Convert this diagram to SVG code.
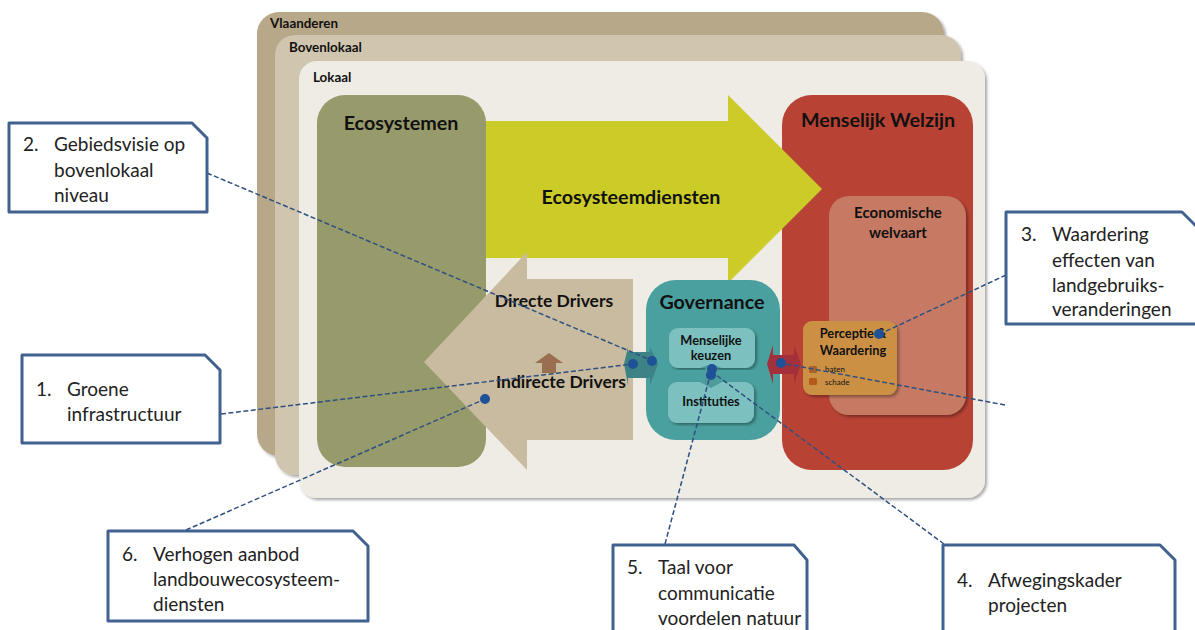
<svg xmlns="http://www.w3.org/2000/svg" width="1195" height="630" viewBox="0 0 1195 630">
<defs>
<filter id="sh" x="-5%" y="-5%" width="110%" height="110%"><feDropShadow dx="2" dy="2" stdDeviation="1.5" flood-color="#000" flood-opacity="0.35"/></filter>
</defs>
<style>
text{font-family:"Lato","Noto Sans","Liberation Sans",sans-serif;fill:#111}
.b{font-weight:700}
.lvl{font-size:13.4px;font-weight:700}
.h{font-size:19.7px;font-weight:700}
.d{font-size:17.5px;font-weight:700;text-anchor:middle}
.m{font-size:12.8px;font-weight:700;text-anchor:middle}
.c{font-size:19px;fill:#222}
.box{fill:#fff;stroke:#41618f;stroke-width:3;stroke-linejoin:round}
.lead{fill:none;stroke:#2f5080;stroke-width:1.5;stroke-dasharray:5 2.5}
.dot{fill:#1f5197}
</style>
<g id="level-vlaanderen"><rect x="257" y="12" width="687" height="444" rx="22" fill="#b8a88a" filter="url(#sh)"/><text class="lvl" x="270" y="28">Vlaanderen</text></g>
<g id="level-bovenlokaal"><rect x="275" y="35" width="686" height="440" rx="20" fill="#d0c5ae" filter="url(#sh)"/><text class="lvl" x="289" y="52">Bovenlokaal</text></g>
<g id="level-lokaal"><rect x="299" y="61" width="686" height="437" rx="18" fill="#eeece5" filter="url(#sh)"/><text class="lvl" x="313" y="82">Lokaal</text></g>
<g id="ecosystemen"><rect x="317" y="95" width="169" height="372" rx="28" fill="#979a6b"/><text class="h" x="401" y="130" text-anchor="middle">Ecosystemen</text></g>
<g id="menselijk-welzijn"><rect x="782" y="95" width="191" height="375" rx="30" fill="#b84335"/><text class="h" x="878" y="127" text-anchor="middle">Menselijk Welzijn</text></g>
<g id="ecosysteemdiensten"><path d="M486 121H728V95L822 189L728 283V258H486Z" fill="#cccc28"/><text class="h" x="631" y="204" text-anchor="middle">Ecosysteemdiensten</text></g>
<g id="drivers"><path d="M424 362L527 252V279H633V440H527V470Z" fill="#c9bba0"/>
<path d="M549 353L563 363H556V373H542V363H535Z" fill="#9a6f50"/>
<text class="d" x="554" y="307">Directe Drivers</text>
<text class="d" x="561" y="388">Indirecte Drivers</text></g>
<g id="economische-welvaart"><rect x="829" y="196" width="137" height="219" rx="20" fill="#c67a63" filter="url(#sh)"/><text class="m" x="898" y="218" style="font-size:15px">Economische</text><text class="m" x="898" y="238" style="font-size:15px">welvaart</text></g>
<g id="perceptie"><rect x="803" y="321" width="94" height="74" rx="9" fill="#cc9045" filter="url(#sh)"/><text class="m" x="853" y="338">Perceptie &amp;</text><text class="m" x="853" y="355">Waardering</text>
<rect x="809" y="366" width="8" height="7" rx="1.5" fill="#a8622a"/><rect x="809" y="378" width="8" height="7" rx="1.5" fill="#b4591c"/>
<text x="825" y="372" font-size="8" fill="#4d3a20">baten</text><text x="825" y="385" font-size="8" fill="#4d3a20">schade</text></g>
<g id="governance"><rect x="646" y="280" width="134" height="160" rx="30" fill="#4aa09e"/><text class="h" x="712" y="309" text-anchor="middle">Governance</text></g>
<g id="menselijke-keuzen"><rect x="669" y="328" width="86" height="40" rx="9" fill="#7cc1c0" filter="url(#sh)"/><text class="m" x="711" y="345">Menselijke</text><text class="m" x="711" y="360">keuzen</text></g>
<g id="instituties"><rect x="668" y="382" width="86" height="41" rx="9" fill="#7cc1c0" filter="url(#sh)"/><text class="m" x="711" y="406">Instituties</text></g>
<g id="small-arrows">
<path d="M624 364L628 347V352H650V347L658 364L650 385V378H628V385Z" fill="#3d8285"/>
<path d="M711 364L722 368H717V382L722 382L711 388L700 382H705V368H700Z" fill="#4f9a9b"/>
<path d="M767 364L773 345V355H794V345L801 364L794 384V374H773V384Z" fill="#a3303a"/>
</g>
<g id="connectors">
<path class="lead" d="M207 173L653 361"/>
<path class="lead" d="M221 414L633 364"/>
<path class="lead" d="M1005 405L781 363"/>
<path class="lead" d="M1006 275L880 334"/>
<path class="lead" d="M944 544L712 372"/>
<path class="lead" d="M665 544L711 372"/>
<path class="lead" d="M186 530L485 399"/>
<circle class="dot" cx="652" cy="361" r="5"/><circle class="dot" cx="633" cy="364" r="5"/><circle class="dot" cx="781" cy="363" r="5"/><circle class="dot" cx="879" cy="334" r="5"/><circle class="dot" cx="712" cy="369" r="5"/><circle class="dot" cx="711" cy="375" r="5"/><circle class="dot" cx="485" cy="399" r="5"/>
</g>
<g id="callout-2"><path class="box" d="M9 123H192L207 138V212H9Z"/><text class="c" x="23" y="151">2.</text><text class="c" x="54" y="151">Gebiedsvisie op</text><text class="c" x="54" y="177">bovenlokaal</text><text class="c" x="54" y="202">niveau</text></g>
<g id="callout-1"><path class="box" d="M22 355H205L220 370V443H22Z"/><text class="c" x="36" y="396">1.</text><text class="c" x="67" y="396">Groene</text><text class="c" x="67" y="421">infrastructuur</text></g>
<g id="callout-3"><path class="box" d="M1006 212H1182L1197 227V324H1006Z"/><text class="c" x="1021" y="241">3.</text><text class="c" x="1052" y="241">Waardering</text><text class="c" x="1052" y="267">effecten van</text><text class="c" x="1052" y="292">landgebruiks-</text><text class="c" x="1052" y="316">veranderingen</text></g>
<g id="callout-6"><path class="box" d="M108 531H353L368 546V621H108Z"/><text class="c" x="122" y="561">6.</text><text class="c" x="153" y="561">Verhogen aanbod</text><text class="c" x="153" y="586">landbouwecosysteem-</text><text class="c" x="153" y="611">diensten</text></g>
<g id="callout-5"><path class="box" d="M613 545H794L807 560V632H613Z"/><text class="c" x="627" y="574">5.</text><text class="c" x="658" y="574">Taal voor</text><text class="c" x="658" y="600">communicatie</text><text class="c" x="658" y="625">voordelen natuur</text></g>
<g id="callout-4"><path class="box" d="M943 545H1160L1175 560V632H943Z"/><text class="c" x="957" y="587">4.</text><text class="c" x="988" y="587">Afwegingskader</text><text class="c" x="988" y="612">projecten</text></g>
</svg>
